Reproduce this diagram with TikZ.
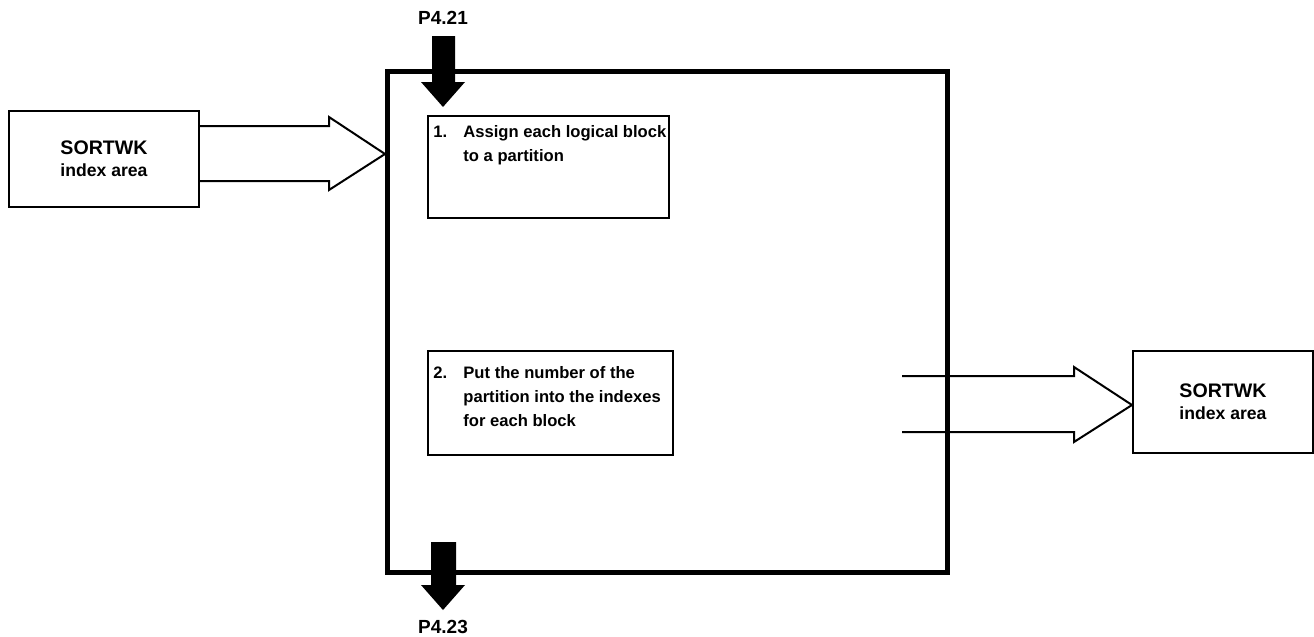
\documentclass[tikz,border=0pt]{standalone}
\usepackage{fontspec}
\setmainfont{Liberation Sans}
\begin{document}
\begin{tikzpicture}[x=0.5pt,y=-0.5pt,
  thinbox/.style={draw,line width=1pt,inner sep=0pt},
  mainbox/.style={draw,line width=2.4pt,inner sep=0pt},
  txt/.style={font=\fontsize{8.3}{12}\selectfont\bfseries,align=left,inner sep=0pt,anchor=north west},
  sortfont/.style={font=\bfseries,align=center,inner sep=0pt},
  hollow/.style={draw,line width=1pt,line join=miter},
  plabel/.style={font=\fontsize{9.5}{11}\selectfont\bfseries,inner sep=0pt}]
\useasboundingbox (0,0) rectangle (1314,637);
% boxes
\node[thinbox,minimum width=95pt,minimum height=48pt,anchor=north west] (src) at (8,110) {};
\node[sortfont] at (src.center) {{\fontsize{9.8}{12}\selectfont SORTWK}\\[-1pt]{\fontsize{8.8}{12}\selectfont index area}};
\node[mainbox,minimum width=280pt,minimum height=250.5pt,anchor=north west] (main) at (385,69) {};
\node[thinbox,minimum width=120.5pt,minimum height=51pt,anchor=north west] (b1) at (427,115) {};
\node[txt] (t1) at (433,125) {\makebox[15pt][l]{1.}Assign each logical block\\\hspace*{15pt}to a partition};
\node[thinbox,minimum width=122.5pt,minimum height=52pt,anchor=north west] (b2) at (427,350) {};
\node[txt] (t2) at (433,366) {\makebox[15pt][l]{2.}Put the number of the\\\hspace*{15pt}partition into the indexes\\\hspace*{15pt}for each block};
\node[thinbox,minimum width=90pt,minimum height=51pt,anchor=north west] (dst) at (1132,350) {};
\node[sortfont] at (dst.center) {{\fontsize{9.8}{12}\selectfont SORTWK}\\[-1pt]{\fontsize{8.8}{12}\selectfont index area}};
% labels
\node[plabel] (p21) at (443,18) {P4.21};
\node[plabel] (p23) at (443,627) {P4.23};
% left hollow arrow
\draw[hollow] (src.east |- 0,126) -- (329,126) -- (329,117) -- (main.west |- 0,154)
  -- (329,190) -- (329,181) -- (src.east |- 0,181);
% right hollow arrow
\draw[hollow] (902,376) -- (1074,376) -- (1074,367) -- (dst.west |- 0,405)
  -- (1074,442) -- (1074,432) -- (902,432);
% solid top arrow
\fill (432,36) -- (455,36) -- (455,82) -- (465,82) -- (443,107) -- (421,82) -- (432,82) -- cycle;
% solid bottom arrow
\fill (431,542) -- (456,542) -- (456,585) -- (465,585) -- (443,610) -- (421,585) -- (431,585) -- cycle;
\end{tikzpicture}
\end{document}
